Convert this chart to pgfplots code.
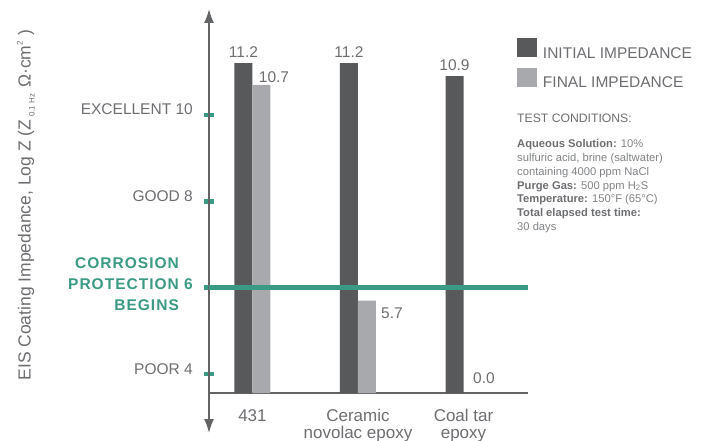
\documentclass[border=0pt]{standalone}
\usepackage{fontspec}
\setmainfont{Liberation Sans}
\newfontfamily\tealfont[LetterSpace=6.5]{Liberation Sans}
\usepackage{pgfplots}
\pgfplotsset{compat=1.18}
\usetikzlibrary{arrows.meta}

\definecolor{barDark}{HTML}{58595B}
\definecolor{barLight}{HTML}{A7A9AC}
\definecolor{tealC}{HTML}{3A9A84}
\definecolor{txtGray}{HTML}{6D6E71}
\definecolor{txtLight}{HTML}{808285}
\definecolor{axGray}{HTML}{636466}

\newcommand\fsTick{\fontsize{15.5}{18.6}\selectfont}
\newcommand\fsCat{\fontsize{17}{17}\selectfont}
\newcommand\fsLab{\fontsize{17.5}{20}\selectfont}
\newcommand\fsHead{\fontsize{12.2}{14}\selectfont}
\newcommand\fsBody{\fontsize{11.2}{13.8}\selectfont}

\pgfplotsset{
    sq legend/.style={legend image code/.code={\fill[##1] (0pt,-4pt) rectangle (20pt,15.5pt);}},
}

\begin{document}
\begin{tikzpicture}
% picture is 706 x 441, axis box south west sits at pixel (209,393)
\path[use as bounding box] (-209pt,-48pt) rectangle (497pt,393pt);
\begin{axis}[
    at={(0pt,0pt)}, anchor=south west,
    scale only axis, width=319pt, height=384pt,
    xmin=-0.412, xmax=2.611, ymin=3.56, ymax=12.455,
    axis x line=bottom, axis y line=left,
    x axis line style={-, draw=axGray, line width=1.6pt},
    y axis line style={arrows={Latex[length=14pt,width=10pt]-Latex[length=14pt,width=10pt]},
        draw=axGray, line width=1.6pt, shorten <=-40pt},
    /pgf/number format/assume math mode=true,
    xtick={0,1,2},
    xticklabels={431, {Ceramic\\novolac epoxy}, {Coal tar\\epoxy}},
    xticklabel style={align=center, font=\fsCat, text=txtGray, anchor=north, inner sep=0pt, yshift=-11pt},
    x tick style={draw=none},
    ytick={4,6,8,10},
    yticklabels={POOR 4,
        {\raisebox{-1.5pt}{\fontsize{15.5}{21}\selectfont\tealfont\bfseries\color{tealC}%
          \begin{tabular}[c]{@{}r@{}}CORROSION\phantom{ 6}\\PROTECTION 6\\BEGINS\phantom{ 6}\end{tabular}}},
        GOOD 8, EXCELLENT 10},
    yticklabel style={anchor=base east, font=\fsTick, text=txtGray, inner sep=0pt, xshift=-11pt},
    tick align=center, major tick length=10pt,
    y tick style={draw=tealC, line width=4.5pt},
    ylabel={EIS Coating Impedance, Log Z (Z\,{\fontsize{8}{9}\selectfont\raisebox{-4pt}{0.1 Hz}}\,\,Ω·cm{\fontsize{8}{9}\selectfont\raisebox{8pt}{2}}\,\,)},
    every axis y label/.style={at={(axis description cs:-0.5737,0.4896)}, rotate=90, anchor=center, font=\fsLab, text=txtGray},
    legend style={at={(axis description cs:0.9655,0.9245)}, anchor=north west, draw=none, fill=none,
        inner sep=0pt, outer sep=0pt, row sep=8pt, column sep=6pt, font=\fsTick, text=txtGray,
        nodes={inner sep=0pt}},
    legend cell align=left,
]
% value labels sit relative to the group centre
\addplot[ybar, bar width=18pt, bar shift=-9pt, fill=barDark, draw=none, sq legend,
    nodes near coords={\pgfmathprintnumber[fixed,precision=1,zerofill]{\pgfplotspointmeta}},
    every node near coord/.append style={font=\fsTick, text=txtGray, inner sep=0pt, xshift=-9pt, yshift=5pt}]
    coordinates {(0,11.2) (1,11.2) (2,10.9)};
\addlegendentry{INITIAL IMPEDANCE}
\addplot[ybar, bar width=18pt, bar shift=9pt, fill=barLight, draw=none, sq legend,
    nodes near coords={\pgfmathprintnumber[fixed,precision=1,zerofill]{\pgfplotspointmeta}},
    every node near coord/.append style={font=\fsTick, text=txtGray, inner sep=0pt, xshift=21.5pt, yshift=2pt},
    coordinate style/.condition={y<8}{xshift=12.5pt, yshift=-20.4pt}]
    coordinates {(0,10.7) (1,5.7)};
\addlegendentry{FINAL IMPEDANCE}
% protection threshold
\addplot[draw=tealC, line width=5pt, forget plot] coordinates {(-0.412,6) (2.611,6)};
% coal tar epoxy final impedance is 0.0 (no visible bar)
\node[anchor=base west, font=\fsTick, text=txtGray, inner sep=0pt, xshift=9.5pt, yshift=10pt] at (axis cs:2,3.56) {0.0};
\end{axis}
\node[anchor=base west, inner sep=0pt, font=\fsHead, text=txtGray] at (308pt,270.7pt) {TEST CONDITIONS:};
\begin{scope}[every node/.style={anchor=base west, inner sep=0pt, font=\fsBody, text=txtLight}]
\node at (308pt,245.3pt) {\textcolor{txtGray}{\bfseries Aqueous Solution:} 10\%};
\node at (308pt,231.5pt) {sulfuric acid, brine (saltwater)};
\node at (308pt,217.7pt) {containing 4000 ppm NaCl};
\node at (308pt,203.9pt) {\textcolor{txtGray}{\bfseries Purge Gas:} 500 ppm H\textsubscript{2}S};
\node at (308pt,190.1pt) {\textcolor{txtGray}{\bfseries Temperature:} 150°F (65°C)};
\node at (308pt,176.3pt) {\textcolor{txtGray}{\bfseries Total elapsed test time:}};
\node at (308pt,162.5pt) {30 days};
\end{scope}
\end{tikzpicture}
\end{document}
